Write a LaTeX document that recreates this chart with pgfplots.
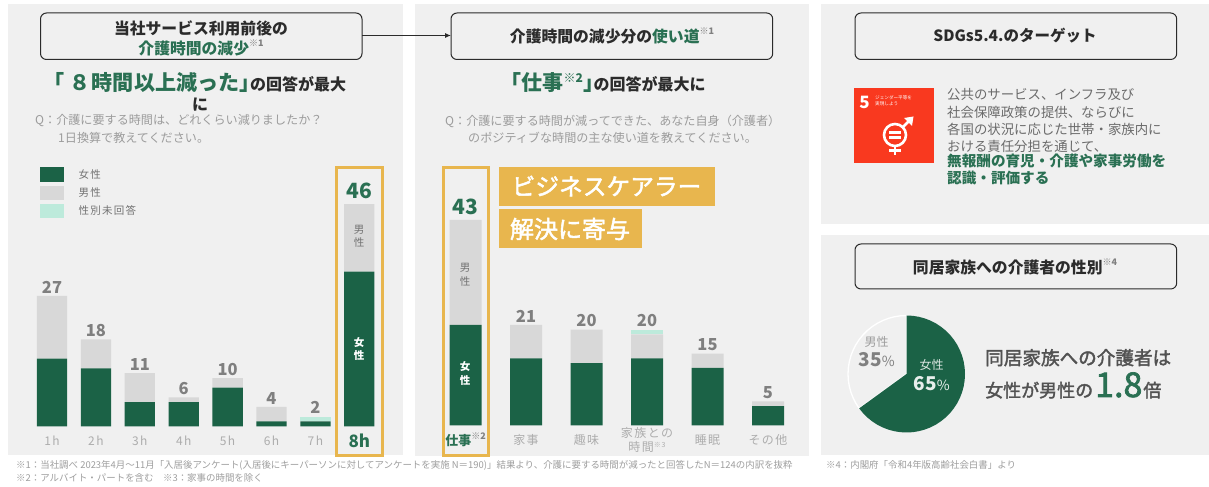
\documentclass[border=0pt]{standalone}
\usepackage{fontspec}
\usepackage{pgfplots}
\pgfplotsset{compat=1.18}
\usepgfplotslibrary{polar}
\usetikzlibrary{arrows.meta}
\setmainfont{Noto Sans CJK JP}
\newfontfamily\spaced[LetterSpace=12]{Noto Sans CJK JP}
\newfontfamily\medium[FakeBold=2]{Noto Sans CJK JP}
\newfontfamily\halfw[RawFeature=+halt]{Noto Sans CJK JP}
\definecolor{dgreen}{HTML}{1B6246}
\definecolor{tgreen}{HTML}{2A7053}
\definecolor{male}{HTML}{D8D8D8}
\definecolor{mint}{HTML}{BDEADB}
\definecolor{panel}{HTML}{F0F0F0}
\definecolor{gold}{HTML}{E8B64E}
\definecolor{qgray}{HTML}{9C9C9C}
\definecolor{dark}{HTML}{2B2B2B}
\definecolor{sdg}{HTML}{F9391F}
\newcommand{\fs}[1]{\fontsize{#1bp}{#1bp}\selectfont}
\newcommand{\nt}[1]{\raisebox{0.45em}{\fs{9}\textcolor{gray}{#1}}}
\protected\def\tot#1{{\fs{16.5}\bfseries\textcolor[HTML]{7F7F7F}{#1}}}
\protected\def\tothi#1{\raisebox{3bp}{\fs{21}\bfseries\textcolor{tgreen}{#1}}}
\pgfplotsset{
  stackbase/.style={
    scale only axis, ybar stacked, clip=false, ymin=0, ymax=50,
    axis line style={draw=none}, ymajorticks=false, xtick=data,
    x tick style={draw=none}, major tick length=0pt,
    xticklabel style={anchor=center, yshift=-14.5bp, align=center, text=black!32, font=\fs{12}\spaced, inner sep=0pt},
  },
  overlay totals/.style={
    scale only axis, hide axis, clip=false, ymin=0, ymax=50,
  },
  fseries/.style={fill=dgreen, draw=none},
  mseries/.style={fill=male, draw=none},
  useries/.style={fill=mint, draw=none},
  totals/.style={draw=none, mark=none, nodes near coords, point meta=explicit symbolic,
    nodes near coords align={above},
    every node near coord/.append style={inner sep=0pt, yshift=2.5bp}},
}
\begin{document}
\begin{tikzpicture}
\useasboundingbox (0,0) rectangle (1209bp,487bp);
\begin{scope}[x=1bp,y=-1bp,shift={(0,487bp)}]
\fill[white] (0,0) rectangle (1209,487);
\fill[panel] (8,4) rectangle (402.5,455.5);
\fill[panel] (415,4) rectangle (809,456);
\fill[panel] (821,4) rectangle (1209,224);
\fill[panel] (821,235) rectangle (1209,455);
\foreach \a/\b/\c/\d in {40.5/13/362/59.5, 451/13/772.7/59.5, 855/13/1176.7/59.5, 855/244/1176.7/289}
  \draw[dark,line width=1bp,rounded corners=6bp,fill=panel] (\a,\b) rectangle (\c,\d);
\draw[dark,line width=1bp,-{Latex[length=6bp,width=5bp]}] (362,35.5) -- (451,35.5);
\fill[gold] (499,167) rectangle (715,206);
\fill[gold] (499,209.5) rectangle (641.5,248);
\end{scope}

% left chart
\begin{axis}[stackbase, at={(30.05bp,60.7bp)}, anchor=south west, width=351.2bp, height=241.5bp,
  xmin=-0.5, xmax=7.5, bar width=30.3bp,
  xticklabels={1h,2h,3h,4h,5h,6h,7h,{\fs{17}\normalfont\bfseries\textcolor{tgreen}{8h}}},
  legend cell align=left,
  legend style={at={(10bp,259bp)}, anchor=north west, draw=none, fill=none, font=\fs{10.5}\spaced\color{black!55}, row sep=3.7bp, inner sep=0pt, outer sep=0pt,
     /tikz/every even column/.append style={column sep=0pt}},
  legend image code/.code={\fill[#1] (-1bp,-7.3bp) rectangle (22.5bp,7.3bp);},
]
\addplot[fseries] coordinates {(0,14)(1,12)(2,5)(3,5)(4,8)(5,1)(6,1)(7,32)};
\addlegendentry{\hspace{13bp}女性}
\addplot[mseries] coordinates {(0,13)(1,6)(2,6)(3,1)(4,2)(5,3)(6,0)(7,14)};
\addlegendentry{\hspace{13bp}男性}
\addplot[useries] coordinates {(0,0)(1,0)(2,0)(3,0)(4,0)(5,0)(6,1)(7,0)};
\addlegendentry{\hspace{13bp}性別未回答}
\end{axis}
\begin{axis}[overlay totals, at={(30.05bp,60.7bp)}, anchor=south west, width=351.2bp, height=241.5bp, xmin=-0.5, xmax=7.5]
\addplot[totals] coordinates {(0,27)[\tot{27}](1,18)[\tot{18}](2,11)[\tot{11}](3,6)[\tot{6}](4,10)[\tot{10}](5,4)[\tot{4}](6,2)[\tot{2}](7,46)[\tothi{46}]};
\end{axis}

% middle chart
\begin{axis}[stackbase, at={(435.25bp,61.7bp)}, anchor=south west, width=363bp, height=239bp,
  xmin=-0.5, xmax=5.5, bar width=32bp,
  xticklabels={{\fs{13}\normalfont\bfseries\textcolor{tgreen}{仕事}\nt{※2}},家事,趣味,{家族との\\[1.5bp]時間\raisebox{0.3em}{\fs{7}※3}},睡眠,その他},
]
\addplot[fseries] coordinates {(0,21)(1,14)(2,13)(3,14)(4,12)(5,4)};
\addplot[mseries] coordinates {(0,22)(1,7)(2,7)(3,5)(4,3)(5,1)};
\addplot[useries] coordinates {(0,0)(1,0)(2,0)(3,1)(4,0)(5,0)};
\end{axis}
\begin{axis}[overlay totals, at={(435.25bp,61.7bp)}, anchor=south west, width=363bp, height=239bp, xmin=-0.5, xmax=5.5]
\addplot[totals] coordinates {(0,43)[\tothi{43}](1,21)[\tot{21}](2,20)[\tot{20}](3,20)[\tot{20}](4,15)[\tot{15}](5,5)[\tot{5}]};
\end{axis}

% pie
\begin{polaraxis}[at={(906.5bp,113bp)}, anchor=center, scale only axis, width=117bp, height=117bp,
  xmin=0, xmax=360, ymin=0, ymax=1, hide axis, clip=false]
\addplot[fill=panel, draw=white, line width=1.3bp] coordinates {(0,0)(216,1)(210,1)(204,1)(198,1)(192,1)(186,1)(180,1)(174,1)(168,1)(162,1)(156,1)(150,1)(144,1)(138,1)(132,1)(126,1)(120,1)(114,1)(108,1)(102,1)(96,1)(90,1)} -- cycle;
\addplot[fill=dgreen, draw=none] coordinates {(0,0)(90,1)(84,1)(78,1)(72,1)(66,1)(60,1)(54,1)(48,1)(42,1)(36,1)(30,1)(24,1)(18,1)(12,1)(6,1)(0,1)(354,1)(348,1)(342,1)(336,1)(330,1)(324,1)(318,1)(312,1)(306,1)(300,1)(294,1)(288,1)(282,1)(276,1)(270,1)(264,1)(258,1)(252,1)(246,1)(240,1)(234,1)(228,1)(222,1)(216,1)} -- cycle;
\end{polaraxis}

\begin{scope}[x=1bp,y=-1bp,shift={(0,487bp)}]
\draw[gold,line width=3bp] (336,167.5) rectangle (382.5,456);
\draw[gold,line width=3bp] (443,167.5) rectangle (488.5,456);

\tikzset{t/.style={inner sep=0pt,anchor=center,align=center}, l/.style={inner sep=0pt,anchor=west}}
% titles
\node[t,font=\fs{15.8}\bfseries,text=dark] at (201,28) {当社サービス利用前後の};
\node[t,font=\fs{15.8}\bfseries,text=tgreen] at (201,48) {介護時間の減少\nt{※1}};
\node[t,font=\fs{15.8}\bfseries,text=dark] at (612,36) {介護時間の減少分の\textcolor{tgreen}{使い道}\nt{※1}};
\node[t,font=\fs{15.5}\bfseries,text=dark] at (1015,36) {SDGs5.4.のターゲット};
\node[t,font=\fs{15.8}\bfseries,text=dark] at (1015,267) {同居家族への介護者の性別\nt{※4}};
% headlines
\node[l,anchor=base west,text=dark] at (54,91) {{\fs{21.1}\bfseries\textcolor{tgreen}{{\halfw\bfseries 「}\hspace{4.5bp}８\hspace{1.5bp}時間以上減った{\halfw\bfseries 」}}}{\fs{16}\bfseries の回答が最大}};
\node[t,font=\fs{16}\bfseries,text=dark] at (200,105) {に};
\node[l,anchor=base west,text=dark] at (511,91) {{\fs{21}\bfseries\textcolor{tgreen}{{\halfw\bfseries 「}仕事\raisebox{0.4em}{\fs{12}※2}{\halfw\bfseries 」}}}{\fs{16}\bfseries の回答が最大に}};
% questions
\node[l,font=\fs{12.1},text=qgray] at (35,121) {Q：介護に要する時間は、どれくらい減りましたか？};
\node[l,font=\fs{12.1},text=qgray] at (58,138) {1日換算で教えてください。};
\node[l,font=\fs{12.1},text=qgray] at (445,121) {Q：介護に要する時間が減ってできた、あなた自身（介護者）};
\node[l,font=\fs{12.1},text=qgray] at (468,138) {のポジティブな時間の主な使い道を教えてください。};
% orange banners
\node[t,font=\fs{23.7}\medium,text=white] at (606.5,186) {ビジネスケアラー};
\node[t,font=\fs{24}\medium,text=white] at (570,229) {解決に寄与};
% in-bar labels
\node[t,font=\fs{10.5},text=black!55] at (359,230) {男};
\node[t,font=\fs{10.5},text=black!55] at (359,243) {性};
\node[t,font=\fs{10.5}\bfseries,text=white] at (359,343) {女};
\node[t,font=\fs{10.5}\bfseries,text=white] at (359,356) {性};
\node[t,font=\fs{10.5},text=black!55] at (465,268) {男};
\node[t,font=\fs{10.5},text=black!55] at (465,282) {性};
\node[t,font=\fs{10.5}\bfseries,text=white] at (465,367) {女};
\node[t,font=\fs{10.5}\bfseries,text=white] at (465,381) {性};
% SDG icon
\fill[sdg] (854.3,87.7) rectangle (933.7,163.3);
\node[t,font=\fs{17}\bfseries,text=white] at (864.5,102) {5};
\node[l,font=\fs{4.6},text=white] at (875,98) {ジェンダー平等を};
\node[l,font=\fs{4.6},text=white] at (875,104) {実現しよう};
\draw[white,line width=2.6bp] (895,135) circle (11);
\fill[white] (889,131.2) rectangle (901,133.6);
\fill[white] (889,136.4) rectangle (901,138.8);
\draw[white,line width=2.6bp] (895,146) -- (895,155);
\draw[white,line width=2.6bp] (889,150.5) -- (901,150.5);
\draw[white,line width=2.6bp] (903,127) -- (911,119);
\fill[white] (913.5,116.5) -- (904,118) -- (912,126) -- cycle;
% SDG text
\node[l,font=\fs{13.4},text=black!58] at (947,95) {公共のサービス、インフラ及び};
\node[l,font=\fs{13.4},text=black!58] at (947,112) {社会保障政策の提供、ならびに};
\node[l,font=\fs{13.4},text=black!58] at (947,129) {各国の状況に応じた世帯・家族内に};
\node[l,font=\fs{13.4},text=black!58] at (947,146) {おける責任分担を通じて、};
\node[l,font=\fs{14.6}\bfseries,text=tgreen] at (947,161) {無報酬の育児・介護や家事労働を};
\node[l,font=\fs{14.6}\bfseries,text=tgreen] at (947,178) {認識・評価する};
% pie labels
\node[t,font=\fs{12},text=white!85!dgreen] at (931.7,365) {女性};
\node[t,text=white!90!dgreen] at (931.7,384) {\fs{19}\bfseries 65\fs{14}\normalfont\%};
\node[t,font=\fs{12},text=qgray] at (876.7,342) {男性};
\node[t,text=black!50] at (876.7,360) {\fs{19}\bfseries 35\fs{14}\normalfont\%};
% pie message
\node[l,font=\fs{18.6}\medium,text=black!68] at (985,357.7) {同居家族への介護者は};
\node[l,anchor=base west,text=black!68] at (985,397) {{\fs{18}\medium 女性が男性の}\hspace{2bp}{\fs{34}\medium\textcolor{tgreen}{1.8}}\hspace{1bp}{\fs{18}\medium 倍}};
% footnotes
\node[l,font=\fs{9.45},text=black!38] at (16,465) {※1：当社調べ 2023年4月～11月「入居後アンケート(入居後にキーパーソンに対してアンケートを実施 N＝190)」結果より、介護に要する時間が減ったと回答したN＝124の内訳を抜粋};
\node[l,font=\fs{9.45},text=black!38] at (16,478) {※2：アルバイト・パートを含む　※3：家事の時間を除く};
\node[l,font=\fs{9.45},text=black!38] at (826,465) {※4：内閣府「令和4年版高齢社会白書」より};
\end{scope}
\end{tikzpicture}
\end{document}
